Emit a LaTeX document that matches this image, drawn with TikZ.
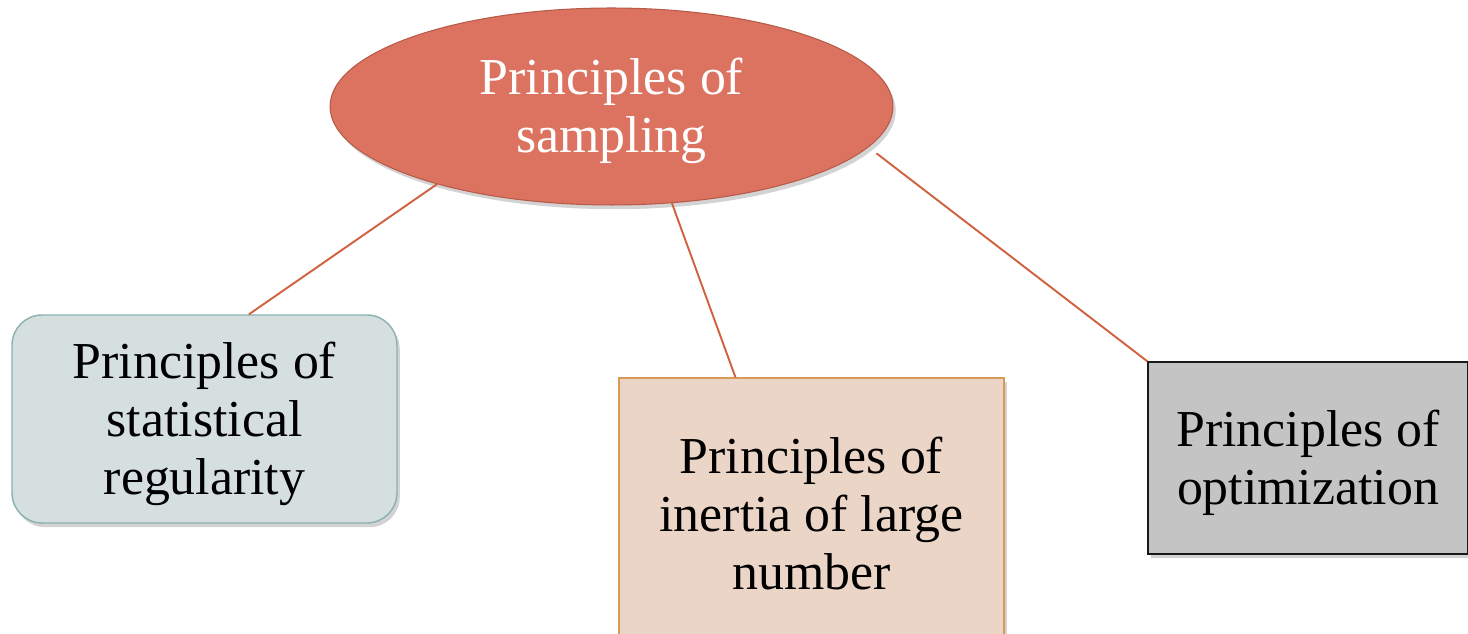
\documentclass[tikz,border=0pt]{standalone}
\usepackage{fontspec}
\setmainfont{Liberation Serif}
\usetikzlibrary{shapes.geometric,shadows}

\definecolor{topicred}{RGB}{220,115,97}
\definecolor{topicedge}{RGB}{184,90,72}
\definecolor{linkred}{RGB}{209,98,63}
\definecolor{statfill}{RGB}{213,223,224}
\definecolor{statedge}{RGB}{138,176,176}
\definecolor{inertfill}{RGB}{235,213,198}
\definecolor{inertedge}{RGB}{217,154,88}
\definecolor{optfill}{RGB}{196,196,196}
\newcommand{\firstline}{\rule{0pt}{26pt}}

\begin{document}
\begin{tikzpicture}[x=0.02cm,y=-0.02cm]
\tikzset{
	label text/.style={font=\fontsize{29.5}{33}\selectfont, align=center, inner sep=0pt},
	shade box/.style={drop shadow={shadow xshift=1.6pt, shadow yshift=-2.4pt, opacity=0.35}},
	topic/.style={label text, ellipse, draw=topicedge, fill=topicred, text=white, line width=0.6pt,
		minimum width=11.26cm, minimum height=3.94cm, shade box},
	principle/.style={label text, rectangle, line width=0.8pt, shade box},
	link/.style={draw=linkred, line width=1.1pt}
}
\useasboundingbox (0,0) rectangle (1468,634);

\node[topic] (sampling) at (611.5,106.5) {\firstline Principles of\\sampling};

\node[principle, draw=statedge, fill=statfill, rounded corners=0.6cm,
	minimum width=7.7cm, minimum height=4.16cm] (stat) at (204.5,419) {\firstline Principles of\\statistical\\regularity};
\node[principle, draw=inertedge, fill=inertfill,
	minimum width=7.7cm, minimum height=5.24cm] (inert) at (811.5,509) {\firstline Principles of\\inertia of large\\number};
\node[principle, draw=black!90, fill=optfill,
	minimum width=6.4cm, minimum height=3.84cm] (optim) at (1308,458) {\firstline Principles of\\optimization};

\draw[link] (sampling.204) -- (stat.67);
\draw[link] (sampling.302) -- (inert.120.5);
\draw[link, shorten <=0.2cm] (sampling.351) -- (optim.north west);

\end{tikzpicture}
\end{document}
